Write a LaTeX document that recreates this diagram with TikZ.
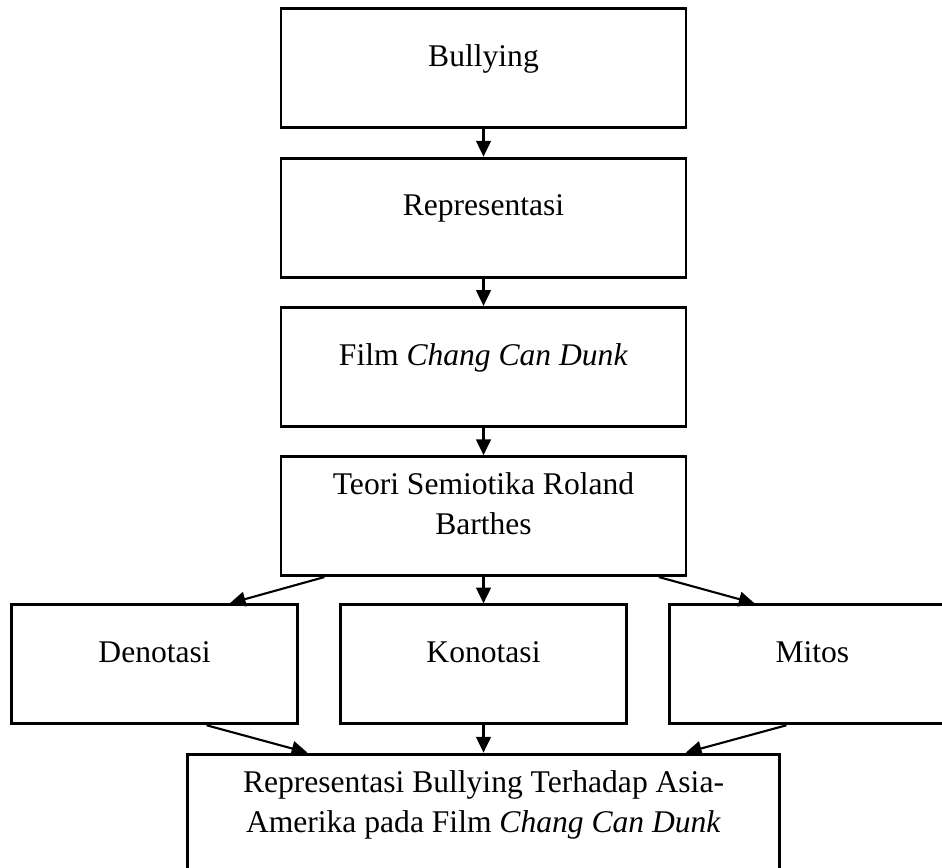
\documentclass[tikz,border=0pt]{standalone}
\usepackage{fontspec}
\setmainfont{Liberation Serif}
\usetikzlibrary{arrows.meta, positioning, calc}

\begin{document}
\begin{tikzpicture}[
    node distance=10.4pt and 15.2pt,
    mybox/.style={draw, line width=1.1pt, align=center, inner sep=2pt,
        minimum width=153.9pt, minimum height=45.22pt,
        font=\fontsize{12pt}{15.2pt}\selectfont,
        execute at end node={\rule[-9.4pt]{0pt}{0pt}}},
    smallbox/.style={mybox, minimum width=108.68pt},
    widebox/.style={mybox, minimum width=224.96pt},
    myarrow/.style={-{Triangle[length=6pt, width=5.6pt]}, line width=0.8pt},
]

% Frame
\useasboundingbox (0,0) rectangle (357.96pt,-329.46pt);

% Main column
\node[mybox, anchor=north] (bullying) at (183.73pt,-2.8pt) {Bullying};
\node[mybox, below=of bullying] (repr) {Representasi};
\node[mybox, below=of repr] (film) {Film \textit{Chang Can Dunk}};
\node[mybox, below=of film] (teori) {Teori Semiotika Roland\\Barthes};

% Barthes levels
\node[smallbox, below=10pt of teori] (konotasi) {Konotasi};
\node[smallbox, left=of konotasi] (denotasi) {Denotasi};
\node[smallbox, right=of konotasi] (mitos) {Mitos};

% Result
\node[widebox, below=of konotasi] (hasil) {Representasi Bullying Terhadap Asia-\\Amerika pada Film \textit{Chang Can Dunk}};

% Arrows
\draw[myarrow] (bullying) -- (repr);
\draw[myarrow] (repr) -- (film);
\draw[myarrow] (film) -- (teori);
\draw[myarrow] ($(teori.south west)!0.11!(teori.south east)$) -- ($(denotasi.north west)!0.76!(denotasi.north east)$);
\draw[myarrow] (teori) -- (konotasi);
\draw[myarrow] ($(teori.south west)!0.93!(teori.south east)$) -- ($(mitos.north west)!0.30!(mitos.north east)$);
\draw[myarrow] ($(denotasi.south west)!0.68!(denotasi.south east)$) -- ($(hasil.north west)!0.204!(hasil.north east)$);
\draw[myarrow] (konotasi) -- (hasil);
\draw[myarrow] ($(mitos.south west)!0.41!(mitos.south east)$) -- ($(hasil.north west)!0.84!(hasil.north east)$);

\end{tikzpicture}
\end{document}
